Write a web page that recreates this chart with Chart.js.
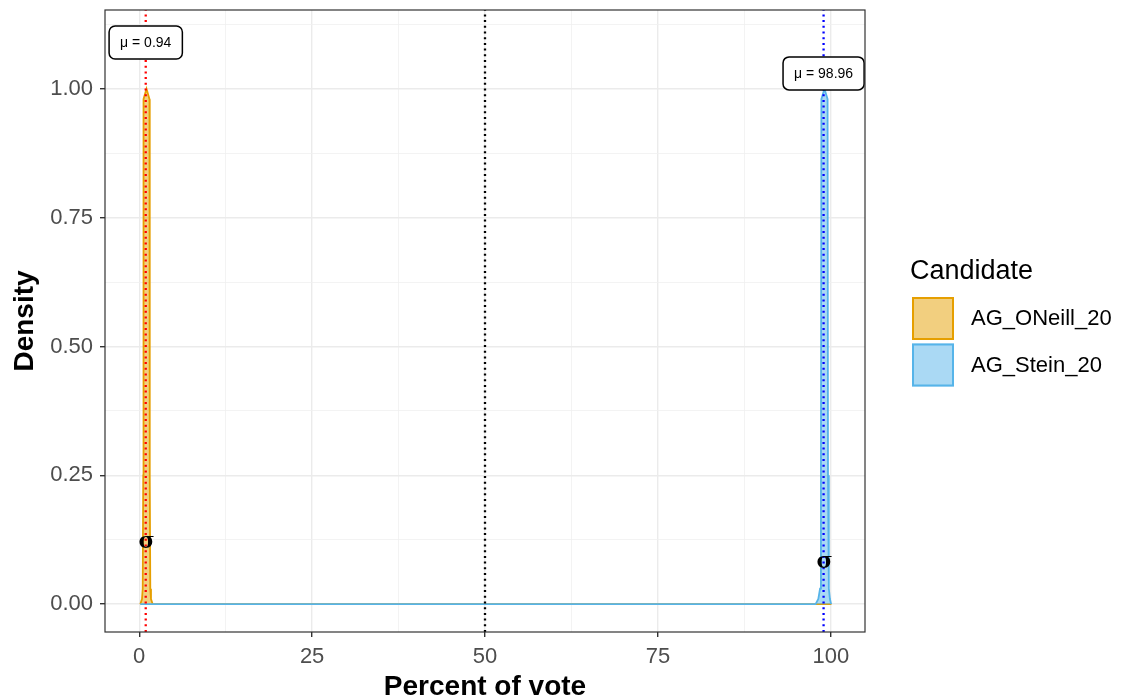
<!DOCTYPE html>
<html>
<head>
<meta charset="utf-8">
<script src="https://cdn.jsdelivr.net/npm/chart.js@4/dist/chart.umd.min.js"></script>
<style>
  html, body { margin: 0; padding: 0; background: #fff; }
  #wrap { width: 1127px; height: 700px; }
</style>
</head>
<body>
<div id="wrap"><canvas id="densityChart" width="1127" height="700"></canvas></div>
<script>
// density curves (scaled so each peak is 1)
const oneillX = [0.15, 0.4, 0.5, 0.58, 0.62, 1.05, 1.48, 1.52, 1.6, 1.7, 1.95, 50, 100.1];
const oneillY = [0, 0.01, 0.03, 0.25, 0.98, 1.0, 0.98, 0.25, 0.03, 0.01, 0, 0, 0];
const steinX = [0.15, 50, 97.8, 98.2, 98.45, 98.58, 98.64, 99.09, 99.54, 99.6, 99.72, 99.88, 100.05];
const steinY = [0, 0, 0, 0.01, 0.03, 0.25, 0.98, 1.0, 0.98, 0.25, 0.03, 0.01, 0];

const candidates = ['AG_ONeill_20', 'AG_Stein_20'];
const means = [0.94, 98.96];
const meanLabelY = [1.09, 1.03];
const sigmaY = [0.12, 0.082];
const midLine = 50;

const xTicks = [0, 12.5, 25, 37.5, 50, 62.5, 75, 87.5, 100];
const yTicks = [0, 0.125, 0.25, 0.375, 0.5, 0.625, 0.75, 0.875, 1, 1.125];
const xMajor = [0, 25, 50, 75, 100];
const yMajor = [0, 0.25, 0.5, 0.75, 1];

const xMin = -4.95, xMax = 104.95;
const yMin = -0.054, yMax = 1.153;

function pts(xs, ys) {
    return xs.map((x, i) => ({ x: x, y: ys[i] }));
}
function vline(x) {
    return [{ x: x, y: yMin }, { x: x, y: yMax }];
}

const fillCols = ['rgba(230,159,0,0.5)', 'rgba(86,180,233,0.5)'];
const lineCols = ['#E69F00', '#56B4E9'];
const meanCols = ['#FF0000', '#0000FF'];

// labels, legend and panel border
const extras = {
    id: 'extras',
    afterDatasetsDraw(chart) {
        const ctx = chart.ctx;
        const xs = chart.scales.x, ys = chart.scales.y;
        const a = chart.chartArea;

        ctx.save();
        // sigma marks
        ctx.fillStyle = '#000';
        ctx.font = 'bold 22px "DejaVu Serif", serif';
        ctx.textAlign = 'center';
        ctx.textBaseline = 'middle';
        for (let i = 0; i < means.length; i++) {
            ctx.fillText('σ', xs.getPixelForValue(means[i]) + 1, ys.getPixelForValue(sigmaY[i]));
        }

        // mean labels
        ctx.font = '14px "Liberation Sans", Arial, sans-serif';
        for (let i = 0; i < means.length; i++) {
            let txt = 'μ = ' + means[i];
            let w = ctx.measureText(txt).width + 22;
            let h = 33;
            let cx = xs.getPixelForValue(means[i]);
            let cy = ys.getPixelForValue(meanLabelY[i]);
            ctx.beginPath();
            ctx.roundRect(cx - w / 2, cy - h / 2, w, h, 6);
            ctx.fillStyle = '#fff';
            ctx.fill();
            ctx.lineWidth = 1.5;
            ctx.strokeStyle = '#000';
            ctx.stroke();
            ctx.fillStyle = '#000';
            ctx.fillText(txt, cx, cy + 1);
        }

        // panel border
        ctx.strokeStyle = '#333333';
        ctx.lineWidth = 1.2;
        ctx.strokeRect(a.left, a.top, a.right - a.left, a.bottom - a.top);

        // legend
        ctx.textAlign = 'left';
        ctx.textBaseline = 'alphabetic';
        ctx.fillStyle = '#000';
        ctx.font = '27px "Liberation Sans", Arial, sans-serif';
        ctx.fillText('Candidate', 910, 279);
        ctx.font = '22px "Liberation Sans", Arial, sans-serif';
        ctx.textBaseline = 'middle';
        for (let i = 0; i < candidates.length; i++) {
            let top = 297 + i * 46.5;
            ctx.fillStyle = '#fff';
            ctx.fillRect(912, top, 42, 43);
            ctx.fillStyle = fillCols[i];
            ctx.fillRect(912, top, 42, 43);
            ctx.strokeStyle = lineCols[i];
            ctx.lineWidth = 2;
            ctx.strokeRect(913, top + 1, 40, 41);
            ctx.fillStyle = '#000';
            ctx.fillText(candidates[i], 971, top + 22);
        }
        ctx.restore();
    }
};

const gridOpts = (major) => ({
    color: (c) => major.includes(c.tick.value) ? '#EBEBEB' : '#F0F0F0',
    lineWidth: (c) => major.includes(c.tick.value) ? 1.4 : 0.8,
    tickColor: (c) => major.includes(c.tick.value) ? '#333333' : 'rgba(0,0,0,0)',
    tickLength: 5,
    tickWidth: 1.4,
    drawTicks: true
});

new Chart(document.getElementById('densityChart').getContext('2d'), {
    type: 'line',
    data: {
        datasets: [{
            label: candidates[0],
            data: pts(oneillX, oneillY),
            borderColor: lineCols[0],
            backgroundColor: fillCols[0],
            borderWidth: 1.8,
            fill: 'origin',
            pointRadius: 0,
            order: 3
        }, {
            label: candidates[1],
            data: pts(steinX, steinY),
            borderColor: lineCols[1],
            backgroundColor: fillCols[1],
            borderWidth: 1.8,
            fill: 'origin',
            pointRadius: 0,
            order: 2
        }, {
            label: 'mean1',
            data: vline(means[0]),
            borderColor: meanCols[0],
            borderWidth: 2.3,
            borderDash: [2, 3.7],
            pointRadius: 0,
            fill: false,
            order: 1
        }, {
            label: 'mean2',
            data: vline(means[1]),
            borderColor: meanCols[1],
            borderWidth: 2.3,
            borderDash: [2, 3.7],
            pointRadius: 0,
            fill: false,
            order: 1
        }, {
            label: 'half',
            data: vline(midLine),
            borderColor: '#000000',
            borderWidth: 2.3,
            borderDash: [2, 3.7],
            pointRadius: 0,
            fill: false,
            order: 1
        }]
    },
    options: {
        responsive: false,
        animation: false,
        layout: { padding: { top: 10, right: 262, left: 0, bottom: 0 } },
        plugins: {
            legend: { display: false },
            tooltip: { enabled: false }
        },
        scales: {
            x: {
                type: 'linear',
                min: xMin,
                max: xMax,
                afterBuildTicks: (s) => { s.ticks = xTicks.map(v => ({ value: v })); },
                afterFit: (s) => { s.height = 68; s.paddingLeft = 0; s.paddingRight = 0; },
                grid: gridOpts(xMajor),
                border: { display: false },
                ticks: {
                    autoSkip: false,
                    maxRotation: 0,
                    padding: 7,
                    color: '#4D4D4D',
                    font: { family: '"Liberation Sans", Arial, sans-serif', size: 22 },
                    callback: (v) => xMajor.includes(v) ? String(v) : ''
                },
                title: {
                    display: true,
                    text: 'Percent of vote',
                    color: '#000',
                    padding: 0,
                    font: { family: '"Liberation Sans", Arial, sans-serif', size: 28, weight: 'bold', lineHeight: 0.93 }
                }
            },
            y: {
                type: 'linear',
                min: yMin,
                max: yMax,
                afterBuildTicks: (s) => { s.ticks = yTicks.map(v => ({ value: v })); },
                afterFit: (s) => { s.width = 105; s.paddingTop = 0; s.paddingBottom = 0; },
                grid: gridOpts(yMajor),
                border: { display: false },
                ticks: {
                    autoSkip: false,
                    padding: 7,
                    color: '#4D4D4D',
                    font: { family: '"Liberation Sans", Arial, sans-serif', size: 22 },
                    callback: (v) => yMajor.includes(v) ? v.toFixed(2) : ''
                },
                title: {
                    display: true,
                    text: 'Density',
                    color: '#000',
                    padding: { top: 11, bottom: 0 },
                    font: { family: '"Liberation Sans", Arial, sans-serif', size: 28, weight: 'bold', lineHeight: 1 }
                }
            }
        }
    },
    plugins: [extras]
});
</script>
</body>
</html>
